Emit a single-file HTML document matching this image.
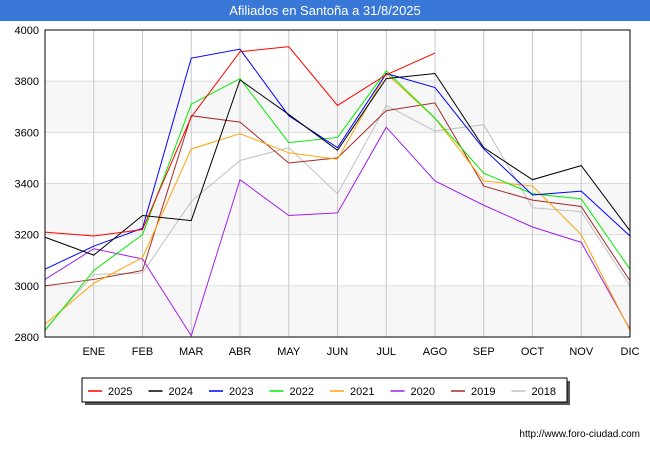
<!DOCTYPE html>
<html><head><meta charset="utf-8"><style>
body{margin:0;width:650px;height:450px;background:#fff;font-family:"Liberation Sans",sans-serif;overflow:hidden}
</style></head><body>
<svg width="650" height="450" id="svg" xmlns="http://www.w3.org/2000/svg">
<rect x="0" y="0" width="650" height="21" fill="#3a78d8"/>
<text x="325" y="15" text-anchor="middle" fill="#fff" font-size="13">Afiliados en Santoña a 31/8/2025</text>
<g id="plot"></g>
<text x="640" y="437" text-anchor="end" font-size="10" fill="#000">http://www.foro-ciudad.com</text>
</svg>
<script>
const months=["","ENE","FEB","MAR","ABR","MAY","JUN","JUL","AGO","SEP","OCT","NOV","DIC"];
const yTicks=[2800,3000,3200,3400,3600,3800,4000];
const seriesNames=["2025","2024","2023","2022","2021","2020","2019","2018"];
const seriesColors=["#ff0000","#000000","#0000ff","#00ee00","#ffa500","#a020f0","#a52a2a","#c0c0c0"];
const s2025=[3210,3195,3220,3660,3915,3935,3705,3825,3910];
const s2024=[3190,3120,3275,3255,3805,3670,3530,3810,3830,3540,3415,3470,3215];
const s2023=[3065,3155,3225,3890,3925,3665,3540,3830,3775,3535,3355,3370,3195];
const s2022=[2825,3060,3200,3710,3810,3560,3580,3840,3655,3440,3360,3340,3065];
const s2021=[2850,3010,3110,3535,3595,3520,3495,3830,3655,3410,3390,3200,2825];
const s2020=[3025,3145,3105,2805,3415,3275,3285,3620,3410,3315,3230,3170,2830];
const s2019=[3000,3025,3060,3665,3640,3480,3500,3685,3715,3390,3335,3310,3020];
const s2018=[2830,3045,3050,3330,3490,3540,3360,3705,3605,3630,3305,3290,3000];
const allSeries=[s2025,s2024,s2023,s2022,s2021,s2020,s2019,s2018];
const L=45,R=630,T=30,B=337,yMin=2800,yMax=4000;
const xs=i=>L+(R-L)*i/(months.length-1);
const ys=v=>B-(v-yMin)/(yMax-yMin)*(B-T);
const NS="http://www.w3.org/2000/svg";
const g=document.getElementById('plot');
function mk(t,a){const e=document.createElementNS(NS,t);for(const k in a)e.setAttribute(k,a[k]);g.appendChild(e);return e;}
for(let i=0;i<yTicks.length-1;i++){
  if(i%2===0){const r=mk('rect',{x:L,y:ys(yTicks[i+1]),width:R-L,height:ys(yTicks[i])-ys(yTicks[i+1]),fill:'#f7f7f7'});
  
  }
}
yTicks.forEach(v=>{
  const l=mk('line',{x1:L,x2:R,y1:ys(v),y2:ys(v),stroke:'#dddddd'});
  
  
  const t=mk('text',{x:L-6,y:ys(v)+4,'text-anchor':'end','font-size':'11'});t.textContent=v;
  
  
});
months.forEach((m,i)=>{
  if(i>0){const l=mk('line',{x1:xs(i),x2:xs(i),y1:T,y2:B,stroke:'#c8c8c8'});
  
  }
  const t=mk('text',{x:xs(i),y:B+18,'text-anchor':'middle','font-size':'11'});t.textContent=m;
  
  
});
for(let s=allSeries.length-1;s>=0;s--){
  const p=mk('polyline',{points:allSeries[s].map((v,i)=>xs(i)+','+ys(v)).join(' '),fill:'none',stroke:seriesColors[s],'stroke-width':1});
  
  
}
const fr=mk('rect',{x:L,y:T,width:R-L,height:B-T,fill:'none',stroke:'#000'});


const sh=mk('rect',{x:85,y:381,width:485,height:24,fill:'#555'});


const lb=mk('rect',{x:82,y:378,width:485,height:24,fill:'#fff',stroke:'#000'});


seriesNames.forEach((n,i)=>{
  const x=88+i*60.5;
  const l=mk('line',{x1:x,x2:x+14,y1:391,y2:391,stroke:seriesColors[i],'stroke-width':1.5});
  
  
  const t=mk('text',{x:x+20,y:395,'font-size':'11'});t.textContent=n;
  
  
});
</script>
</body></html>
